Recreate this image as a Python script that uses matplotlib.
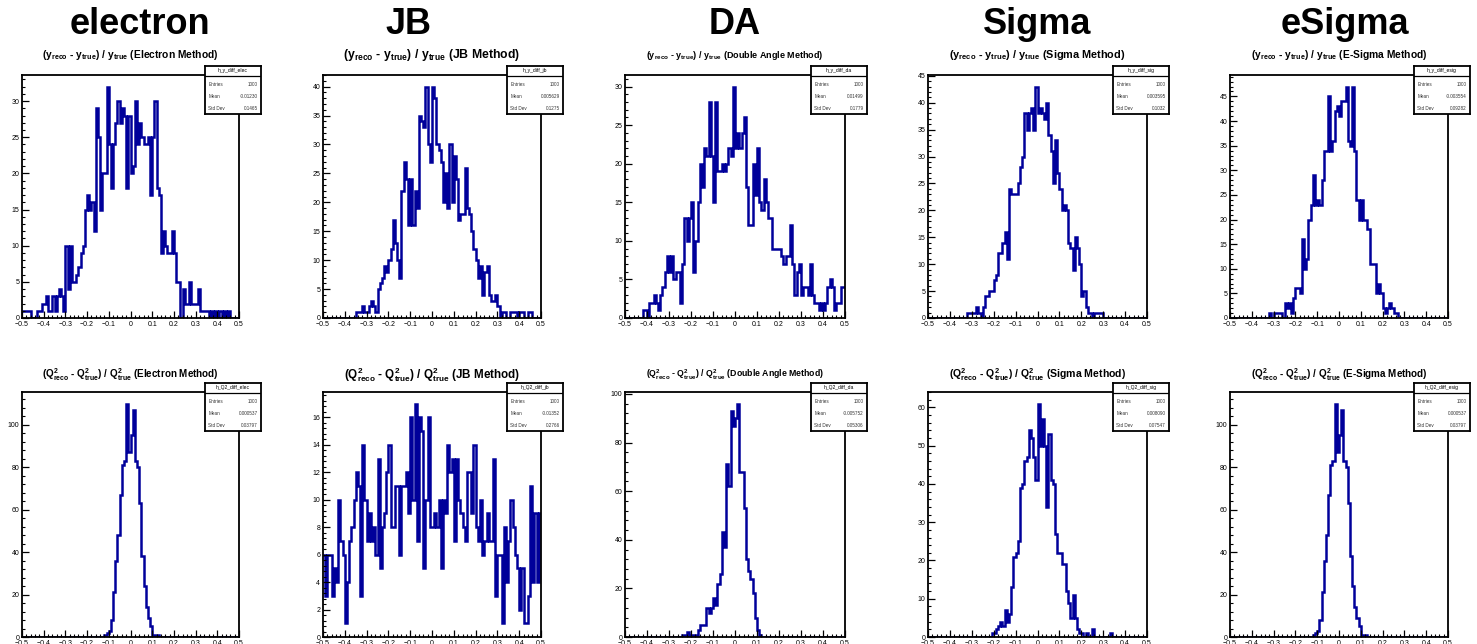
import numpy as np
import matplotlib
matplotlib.use('Agg')
import matplotlib.pyplot as plt
from matplotlib.ticker import MultipleLocator, AutoMinorLocator, FuncFormatter

plt.rcParams['font.family'] = ['Liberation Sans', 'DejaVu Sans']
plt.rcParams['mathtext.fontset'] = 'custom'
plt.rcParams['mathtext.rm'] = 'Liberation Sans:bold'
plt.rcParams['mathtext.it'] = 'Liberation Sans:bold'
plt.rcParams['mathtext.bf'] = 'Liberation Sans:bold'

# --- data ---------------------------------------------------------------
methods = ['electron', 'JB', 'DA', 'Sigma', 'eSigma']
method_titles = ['Electron Method', 'JB Method', 'Double Angle Method',
                 'Sigma Method', 'E-Sigma Method']
tags = ['elec', 'jb', 'da', 'sig', 'esig']

# 100 bins between -0.5 and 0.5
bin_edges = np.linspace(-0.5, 0.5, 101)

y_elec = [1, 1, 1, 1, 0, 0, 0, 1, 1, 2,
          2, 3, 1, 1, 3, 1, 3, 4, 3, 1,
          10, 4, 10, 5, 5, 6, 7, 9, 10, 15,
          17, 15, 16, 12, 29, 25, 15, 20, 20, 32,
          24, 18, 24, 27, 30, 27, 29, 28, 18, 28,
          20, 21, 30, 24, 27, 25, 24, 24, 25, 17,
          25, 30, 18, 17, 9, 12, 10, 9, 9, 12,
          9, 5, 5, 0, 4, 2, 2, 5, 2, 2,
          2, 4, 1, 1, 1, 1, 0, 1, 0, 1,
          0, 1, 0, 1, 0, 1, 0, 0, 0, 0]

y_jb = [0, 0, 0, 0, 0, 0, 0, 0, 0, 0,
        0, 0, 0, 0, 0, 1, 1, 1, 2, 1,
        1, 2, 3, 2, 1, 5, 6, 7, 9, 8,
        10, 12, 17, 13, 10, 7, 22, 27, 24, 16,
        24, 16, 22, 19, 35, 34, 33, 40, 30, 27,
        40, 38, 30, 29, 27, 20, 25, 19, 30, 20,
        28, 24, 17, 18, 18, 26, 19, 18, 15, 12,
        10, 7, 9, 4, 8, 9, 4, 3, 3, 4,
        2, 0, 1, 1, 0, 0, 1, 1, 1, 0,
        1, 1, 0, 0, 1, 1, 0, 0, 0, 0]

y_da = [0, 0, 0, 0, 0, 0, 0, 0, 1, 1,
        0, 2, 2, 3, 2, 1, 3, 4, 6, 8,
        6, 8, 5, 6, 6, 2, 7, 13, 10, 13,
        15, 6, 10, 15, 20, 17, 22, 21, 28, 21,
        15, 28, 19, 19, 20, 19, 20, 22, 21, 30,
        22, 24, 22, 24, 26, 17, 12, 12, 20, 16,
        22, 15, 14, 18, 15, 13, 13, 9, 9, 9,
        9, 8, 7, 8, 8, 12, 7, 3, 6, 7,
        3, 4, 4, 3, 7, 3, 2, 2, 1, 2,
        1, 2, 4, 5, 4, 1, 2, 2, 4, 4]

y_sig = [0, 0, 0, 0, 0, 0, 0, 0, 0, 0,
         0, 0, 0, 0, 0, 0, 0, 0, 1, 1,
         1, 1, 2, 1, 0, 2, 4, 4, 5, 5,
         7, 8, 12, 12, 14, 16, 11, 24, 23, 23,
         23, 25, 28, 30, 38, 35, 38, 39, 35, 43,
         38, 39, 38, 37, 40, 34, 31, 25, 33, 27,
         24, 20, 21, 20, 14, 13, 9, 15, 13, 10,
         4, 5, 2, 1, 1, 0, 1, 1, 1, 1,
         0, 0, 0, 0, 0, 0, 0, 0, 0, 0,
         0, 0, 0, 0, 0, 0, 0, 0, 0, 0]

y_esig = [0, 0, 0, 0, 0, 0, 0, 0, 0, 0,
          0, 0, 0, 0, 0, 0, 0, 0, 1, 0,
          1, 1, 1, 1, 0, 3, 2, 3, 1, 4,
          6, 6, 5, 16, 10, 12, 20, 23, 29, 23,
          24, 23, 28, 34, 34, 45, 34, 36, 42, 43,
          41, 44, 44, 47, 36, 35, 47, 34, 24, 20,
          24, 20, 20, 18, 11, 11, 11, 5, 7, 5,
          2, 1, 2, 3, 2, 1, 1, 0, 0, 0,
          0, 0, 0, 0, 0, 0, 0, 0, 0, 0,
          0, 0, 0, 0, 0, 0, 0, 0, 0, 0]

q2_elec = [0, 0, 0, 0, 0, 0, 0, 0, 0, 0,
           0, 0, 0, 0, 0, 0, 0, 0, 0, 0,
           0, 0, 0, 0, 0, 0, 0, 0, 0, 0,
           0, 0, 0, 0, 0, 0, 0, 0, 1, 2,
           3, 8, 21, 36, 48, 67, 81, 83, 110, 87,
           95, 107, 83, 80, 63, 38, 24, 14, 9, 5,
           1, 1, 1, 0, 0, 0, 0, 0, 0, 0,
           0, 0, 0, 0, 0, 0, 0, 0, 0, 0,
           0, 0, 0, 0, 0, 0, 0, 0, 0, 0,
           0, 0, 0, 0, 0, 0, 0, 0, 0, 0]

q2_jb = [6, 3, 6, 6, 3, 5, 4, 10, 7, 6,
         1, 4, 7, 8, 10, 12, 11, 3, 14, 10,
         7, 9, 7, 8, 6, 13, 5, 8, 9, 12,
         14, 8, 8, 11, 11, 6, 11, 11, 12, 9,
         16, 10, 17, 7, 16, 15, 5, 10, 16, 8,
         8, 9, 8, 10, 5, 10, 9, 14, 12, 13,
         7, 13, 10, 9, 8, 7, 12, 12, 9, 14,
         8, 7, 10, 6, 7, 9, 7, 7, 13, 3,
         6, 6, 1, 8, 4, 7, 10, 8, 6, 5,
         2, 5, 1, 1, 3, 11, 4, 9, 4, 9]

q2_da = [0, 0, 0, 0, 0, 0, 0, 0, 0, 0,
         0, 0, 0, 0, 0, 0, 0, 0, 0, 0,
         0, 0, 0, 0, 0, 0, 1, 1, 2, 1,
         1, 1, 1, 3, 5, 5, 5, 12, 10, 12,
         16, 13, 22, 26, 43, 37, 71, 62, 93, 87,
         90, 96, 68, 68, 53, 32, 27, 24, 18, 8,
         3, 1, 0, 0, 0, 0, 0, 0, 0, 0,
         0, 0, 0, 0, 0, 0, 0, 0, 0, 0,
         0, 0, 0, 0, 0, 0, 0, 0, 0, 0,
         0, 0, 0, 0, 0, 0, 0, 0, 0, 0]

q2_sig = [0, 0, 0, 0, 0, 0, 0, 0, 0, 0,
          0, 0, 0, 0, 0, 0, 0, 0, 0, 0,
          0, 0, 0, 0, 0, 0, 0, 0, 0, 1,
          1, 2, 3, 4, 3, 7, 4, 6, 13, 21,
          22, 25, 39, 40, 46, 47, 54, 52, 47, 41,
          61, 50, 57, 50, 34, 53, 41, 40, 27, 22,
          22, 19, 19, 12, 9, 5, 11, 5, 2, 1,
          1, 0, 1, 0, 0, 2, 0, 0, 0, 0,
          0, 0, 0, 1, 0, 0, 0, 0, 0, 0,
          0, 0, 0, 0, 0, 0, 0, 0, 0, 0]

# e-Sigma Q2 histogram is the same as the electron one in the picture
q2_esig = list(q2_elec)

y_hists = [y_elec, y_jb, y_da, y_sig, y_esig]
q2_hists = [q2_elec, q2_jb, q2_da, q2_sig, q2_esig]

y_major = [5, 5, 5, 5, 5]
q2_major = [20, 2, 20, 10, 20]

entries = ['1000', '1000', '1000', '1000', '1000']
y_means = ['-0.01230', '0.005629', '0.01499', '0.003595', '-0.003554']
y_stds = ['0.1465', '0.1275', '0.1779', '0.1032', '0.09282']
q2_means = ['0.000537', '-0.01352', '-0.005752', '0.008090', '0.000537']
q2_stds = ['0.03797', '0.2766', '0.05306', '0.07547', '0.03797']

# --- layout (pixels) ----------------------------------------------------
W, H = 1477, 644
lefts = [22, 323, 625, 928, 1230]
rights = [239, 541, 845, 1147, 1448]
row_top = [75, 392]
row_bot = [318, 637]
title_y = [55, 375]
header_x = [140, 408, 735, 1037, 1345]
line_col = '#00009a'

fig = plt.figure(figsize=(W / 100, H / 100), dpi=100)
renderer = fig.canvas.get_renderer()


def px_box(x0, y0, x1, y1):
    return [x0 / W, 1 - y1 / H, (x1 - x0) / W, (y1 - y0) / H]


def xfmt(v, pos):
    if abs(v) < 1e-9:
        return '0'
    return f'{v:.1f}'.replace('-', '\u2212')


def yfmt(v, pos):
    return f'{v:g}'


def stat_box(x_right, y_top, name, n, mean, std):
    bx = fig.add_axes(px_box(x_right - 34, y_top - 9, x_right + 22, y_top + 39))
    bx.set_xlim(0, 1)
    bx.set_ylim(0, 1)
    bx.set_xticks([])
    bx.set_yticks([])
    for s in bx.spines.values():
        s.set_linewidth(1.3)
    bx.axhline(0.79, color='black', lw=0.9)
    bx.text(0.5, 0.9, name, fontsize=3.6, ha='center', va='center')
    rows = [('Entries', n), ('Mean', mean), ('Std Dev', std)]
    for k, (lab, val) in enumerate(rows):
        yy = 0.62 - k * 0.25
        bx.text(0.06, yy, lab, fontsize=3.3, ha='left', va='center', color='#333333')
        bx.text(0.94, yy, val, fontsize=3.3, ha='right', va='center', color='#333333')


def fit_title(cx, cy, s, width=178):
    t = fig.text(cx / W, 1 - cy / H, s, fontsize=7, fontweight='bold',
                 ha='center', va='center')
    w = t.get_window_extent(renderer).width
    t.set_fontsize(7 * width / w)


for c in range(5):
    fig.text(header_x[c] / W, 1 - 34 / H, methods[c], fontsize=26,
             fontweight='bold', ha='center', va='baseline')
    for r in range(2):
        if r == 0:
            counts = y_hists[c]
            major = y_major[c]
            title = (r'(y$_{\mathrm{reco}}$ - y$_{\mathrm{true}}$) / y$_{\mathrm{true}}$ ('
                     + method_titles[c] + ')')
            name = 'h_y_diff_' + tags[c]
            mean, std = y_means[c], y_stds[c]
        else:
            counts = q2_hists[c]
            major = q2_major[c]
            title = (r'(Q$^{\mathrm{2}}_{\mathrm{reco}}$ - Q$^{\mathrm{2}}_{\mathrm{true}}$) / '
                     r'Q$^{\mathrm{2}}_{\mathrm{true}}$ (' + method_titles[c] + ')')
            name = 'h_Q2_diff_' + tags[c]
            mean, std = q2_means[c], q2_stds[c]

        ax = fig.add_axes(px_box(lefts[c], row_top[r], rights[c], row_bot[r]))
        ax.stairs(counts, bin_edges, color=line_col, lw=1.8, baseline=None)
        ax.set_xlim(-0.5, 0.5)
        ax.set_ylim(0, 1.05 * max(counts))
        ax.xaxis.set_major_locator(MultipleLocator(0.1))
        ax.xaxis.set_minor_locator(AutoMinorLocator(5))
        ax.yaxis.set_major_locator(MultipleLocator(major))
        ax.yaxis.set_minor_locator(AutoMinorLocator(5))
        ax.xaxis.set_major_formatter(FuncFormatter(xfmt))
        ax.yaxis.set_major_formatter(FuncFormatter(yfmt))
        ax.tick_params(which='major', direction='in', length=5, width=0.9,
                       labelsize=5, pad=2, top=False, right=False)
        ax.tick_params(which='minor', direction='in', length=2.5, width=0.8,
                       top=False, right=False)
        for s in ax.spines.values():
            s.set_linewidth(1.3)

        fit_title((lefts[c] + rights[c]) / 2, title_y[r], title)
        stat_box(rights[c], row_top[r], name, entries[c], mean, std)

fig.savefig('out.png', dpi=100)
